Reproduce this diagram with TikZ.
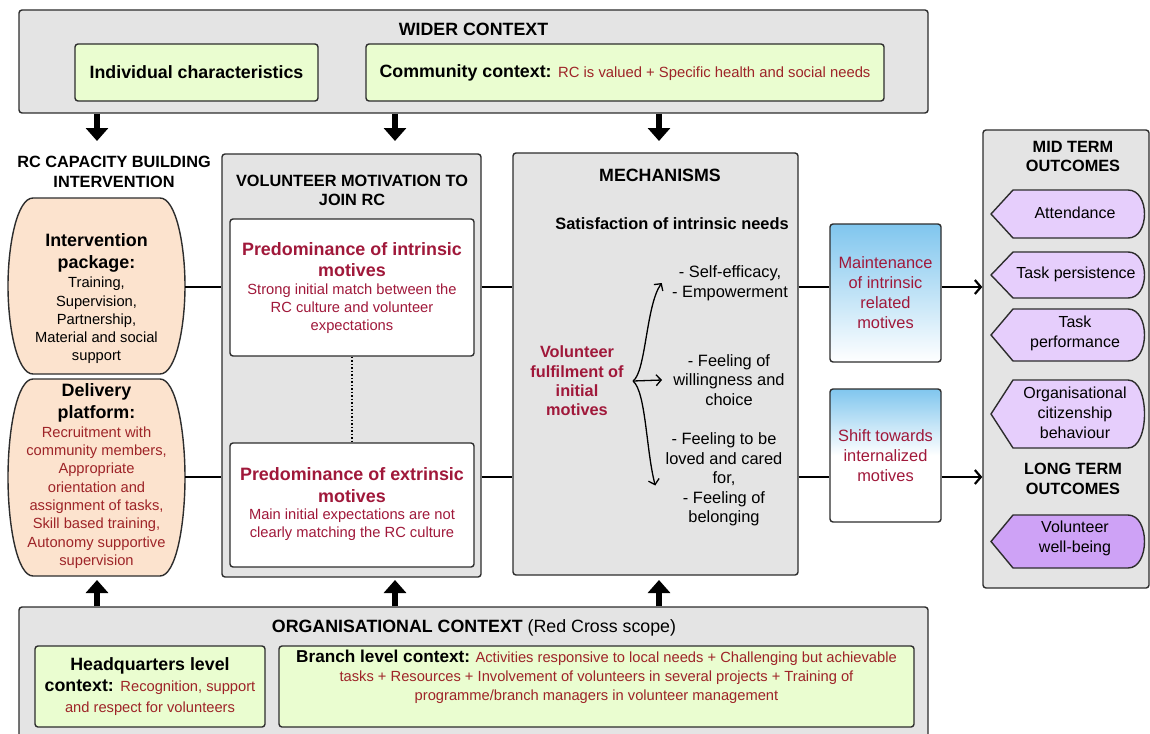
\documentclass[tikz,border=0pt]{standalone}
\usepackage{fontspec}
\setmainfont{Liberation Sans}
\usetikzlibrary{arrows.meta, positioning}
\definecolor{edgec}{RGB}{45,45,45}
\definecolor{boxgray}{RGB}{228,228,228}
\definecolor{greenfill}{RGB}{234,253,208}
\definecolor{peachfill}{RGB}{252,227,206}
\definecolor{lilacfill}{RGB}{230,206,252}
\definecolor{violetfill}{RGB}{206,162,246}
\definecolor{skyfill}{RGB}{128,198,238}
\definecolor{ctxred}{RGB}{158,36,40}
\definecolor{crim}{RGB}{160,24,58}
\begin{document}
\begin{tikzpicture}[x=1pt, y=-1pt, thick,
    boxed/.style = {draw=edgec, line width=1.4pt, rounded corners=3pt},
    ctx/.style = {boxed, fill=boxgray},
    grn/.style = {boxed, fill=greenfill, align=center},
    wbox/.style = {boxed, fill=white},
    bbox/.style = {boxed, top color=skyfill, bottom color=white, align=center, font=\fontsize{16.4}{20}\selectfont, text=crim},
    bbox2/.style = {bbox, middle color=white},
    blob/.style = {draw=edgec, line width=1.4pt, fill=peachfill},
    outshape/.style = {draw=edgec, line width=1.4pt, fill=lilacfill},
    hd/.style = {font=\fontsize{17.8}{21}\selectfont\bfseries, align=center, inner sep=0pt},
    ttl/.style = {font=\fontsize{16.3}{19.5}\selectfont\bfseries, align=center, inner sep=0pt},
    subhd/.style = {font=\fontsize{17.9}{21.5}\selectfont\bfseries, align=center, inner sep=0pt},
    smalltxt/.style = {font=\fontsize{14.7}{18.3}\selectfont, align=center, inner sep=0pt},
    mtext/.style = {font=\fontsize{16.4}{19.6}\selectfont, align=center, inner sep=0pt},
    otext/.style = {font=\fontsize{16}{20}\selectfont, align=center, inner sep=0pt},
    area/.style = {inner sep=0pt, minimum width=177pt},
    bigarrow/.style = {line width=6.5pt, -{Triangle[width=22pt,length=13pt]}},
    conn/.style = {line width=2pt},
    rarrow/.style = {line width=2.2pt, -{Straight Barb[length=6pt,width=14pt]}},
    bracearrow/.style = {line width=1.3pt, -{Straight Barb[length=5pt,width=11pt]}}]

\path[use as bounding box, fill=white] (0,0) rectangle (1150,733);

\node[ctx, minimum width=909pt, minimum height=103pt] (1) at (473.5,61.5) {};
\node[hd] (2) at (473.5,29) {WIDER CONTEXT};
\node[grn, minimum width=243pt, minimum height=57pt, font=\fontsize{17.8}{21}\selectfont\bfseries] (3) at (196.5,72.5) {Individual characteristics};
\node[grn, minimum width=518pt, minimum height=57pt, font=\fontsize{17.8}{21}\selectfont] (4) at (625,72.5) {\textbf{Community context:} {\color{ctxred}\fontsize{14.8}{18}\selectfont RC is valued + Specific health and social needs}};

\node[ttl] (5) at (114,172) {RC CAPACITY BUILDING\\INTERVENTION};
\draw[blob] (33,198) -- (160,198) .. controls (176,198) and (185,245) .. (185,286) .. controls (185,327) and (176,374) .. (160,374) -- (33,374) .. controls (17,374) and (8,327) .. (8,286) .. controls (8,245) and (17,198) .. (33,198) -- cycle;
\node[area, minimum height=176pt] (6) at (96.5,287) {};
\node[subhd] (7) at (96.5,253) {Intervention\\package:};
\node[smalltxt] (8) at (96.5,320.5) {Training,\\Supervision,\\Partnership,\\Material and social\\support};
\draw[blob] (33,379) -- (160,379) .. controls (176,379) and (185,430) .. (185,477.5) .. controls (185,525) and (176,576) .. (160,576) -- (33,576) .. controls (17,576) and (8,525) .. (8,477.5) .. controls (8,430) and (17,379) .. (33,379) -- cycle;
\node[area, minimum height=197pt] (9) at (96.5,477) {};
\node[subhd] (10) at (96.5,403) {Delivery\\platform:};
\node[smalltxt, text=ctxred] (11) at (96.5,497.5) {Recruitment with\\community members,\\Appropriate\\orientation and\\assignment of tasks,\\Skill based training,\\Autonomy supportive\\supervision};

\node[ctx, minimum width=259pt, minimum height=423pt] (12) at (351.5,365.5) {};
\node[ttl] (13) at (352,190.5) {VOLUNTEER MOTIVATION TO\\JOIN RC};
\node[wbox, minimum width=244pt, minimum height=137pt] (14) at (352,287.5) {};
\node[subhd, text=crim] (15) at (352,259.5) {Predominance of intrinsic\\motives};
\node[smalltxt, text=crim] (16) at (352,308.5) {Strong initial match between the\\RC culture and volunteer\\expectations};
\node[wbox, minimum width=244pt, minimum height=124pt] (17) at (352,505) {};
\node[subhd, text=crim] (18) at (352,485) {Predominance of extrinsic\\motives};
\node[smalltxt, text=crim] (19) at (352,525) {Main initial expectations are not\\clearly matching the RC culture};
\draw[dotted, line width=1.5pt] (14) -- (17);

\node[ctx, minimum width=285pt, minimum height=422pt] (20) at (655.5,364) {};
\node[hd] (21) at (660,175) {MECHANISMS};
\node[mtext, font=\fontsize{16.4}{19.6}\selectfont\bfseries] (22) at (672,224) {Satisfaction of intrinsic needs};
\node[mtext, font=\fontsize{16.3}{19.4}\selectfont\bfseries, text=crim] (23) at (577,381) {Volunteer\\fulfilment of\\initial\\motives};
\node[mtext] (24) at (730,283) {- Self-efficacy,\\- Empowerment};
\node[mtext] (25) at (729,380) {- Feeling of\\willingness and\\choice};
\node[mtext] (26) at (724,479.5) {- Feeling to be\\loved and cared\\for,\\- Feeling of\\belonging};
\draw[bracearrow] ([xshift=9pt]23.east) .. controls (646,372) and (646,305) .. ([xshift=-10pt]24.west);
\draw[bracearrow] ([xshift=9pt]23.east) -- ([xshift=-11pt]25.west);
\draw[bracearrow] ([xshift=9pt]23.east) .. controls (646,392) and (646,450) .. ([xshift=-10pt,yshift=-6pt]26.west);

\node[bbox, minimum width=111pt, minimum height=138pt] (27) at (885.5,293) {Maintenance\\of intrinsic\\related\\motives};
\node[bbox2, minimum width=111pt, minimum height=133pt] (28) at (885.5,455.5) {Shift towards\\internalized\\motives};

\node[ctx, minimum width=166pt, minimum height=458pt] (29) at (1066,359) {};
\node[ttl] (30) at (1073,156.5) {MID TERM\\OUTCOMES};
\draw[outshape] (991,214) -- (1013,190) -- (1128,190) .. controls (1150,190) and (1150,238) .. (1128,238) -- (1013,238) -- cycle;
\node[otext] (31) at (1075,213) {Attendance};
\draw[outshape] (991,275) -- (1013,252) -- (1128,252) .. controls (1150,252) and (1150,298) .. (1128,298) -- (1013,298) -- cycle;
\node[otext] (32) at (1076,274) {Task persistence};
\draw[outshape] (991,335) -- (1013,309) -- (1128,309) .. controls (1150,309) and (1150,361) .. (1128,361) -- (1013,361) -- cycle;
\node[otext] (33) at (1075,333) {Task\\performance};
\draw[outshape] (991,414) -- (1013,380) -- (1128,380) .. controls (1150,380) and (1150,448) .. (1128,448) -- (1013,448) -- cycle;
\node[otext] (34) at (1075,412.5) {Organisational\\citizenship\\behaviour};
\node[ttl] (35) at (1073,479) {LONG TERM\\OUTCOMES};
\draw[outshape, fill=violetfill] (991,541.5) -- (1013,515) -- (1128,515) .. controls (1150,515) and (1150,568) .. (1128,568) -- (1013,568) -- cycle;
\node[otext] (36) at (1075,538) {Volunteer\\well-being};

\draw[conn] (6.east) -- (12.west |- 6.east);
\draw[conn] (12.east |- 6.east) -- (20.west |- 6.east);
\draw[conn] (20.east |- 6.east) -- (27.west |- 6.east);
\draw[rarrow] (27.east |- 6.east) -- (29.west |- 6.east);
\draw[conn] (9.east) -- (12.west |- 9.east);
\draw[conn] (12.east |- 9.east) -- (20.west |- 9.east);
\draw[conn] (20.east |- 9.east) -- (28.west |- 9.east);
\draw[rarrow] (28.east |- 9.east) -- (29.west |- 9.east);

\node[ctx, minimum width=909pt, minimum height=140pt] (37) at (473.5,677) {};
\node[inner sep=0pt, font=\fontsize{17.8}{21}\selectfont] (38) at (474,628) {\textbf{ORGANISATIONAL CONTEXT} (Red Cross scope)};
\node[grn, minimum width=230pt, minimum height=81pt, font=\fontsize{17.8}{21}\selectfont] (39) at (150,686.5) {\textbf{Headquarters level}\\\textbf{context:} {\color{ctxred}\fontsize{14.7}{18}\selectfont Recognition, support}\\{\color{ctxred}\fontsize{14.7}{18}\selectfont and respect for volunteers}};
\node[grn, minimum width=635pt, minimum height=81pt] (40) at (596.5,686.5) {};
\node[inner sep=0pt, align=center, font=\fontsize{14.7}{19}\selectfont, text=ctxred] (41) at (596.5,677) {{\color{black}\fontsize{17.2}{19}\selectfont\bfseries Branch level context:} Activities responsive to local needs + Challenging but achievable\\tasks + Resources + Involvement of volunteers in several projects + Training of\\programme/branch managers in volunteer management};

\coordinate (a1) at (97,141);
\coordinate (a2) at (395,141);
\coordinate (a3) at (659,141);
\coordinate (b1) at (97,580);
\coordinate (b2) at (395,580);
\coordinate (b3) at (659,580);
\draw[bigarrow] (1.south -| a1) -- (a1);
\draw[bigarrow] (1.south -| a2) -- (a2);
\draw[bigarrow] (1.south -| a3) -- (a3);
\draw[bigarrow] (37.north -| b1) -- (b1);
\draw[bigarrow] (37.north -| b2) -- (b2);
\draw[bigarrow] (37.north -| b3) -- (b3);
\end{tikzpicture}
\end{document}
